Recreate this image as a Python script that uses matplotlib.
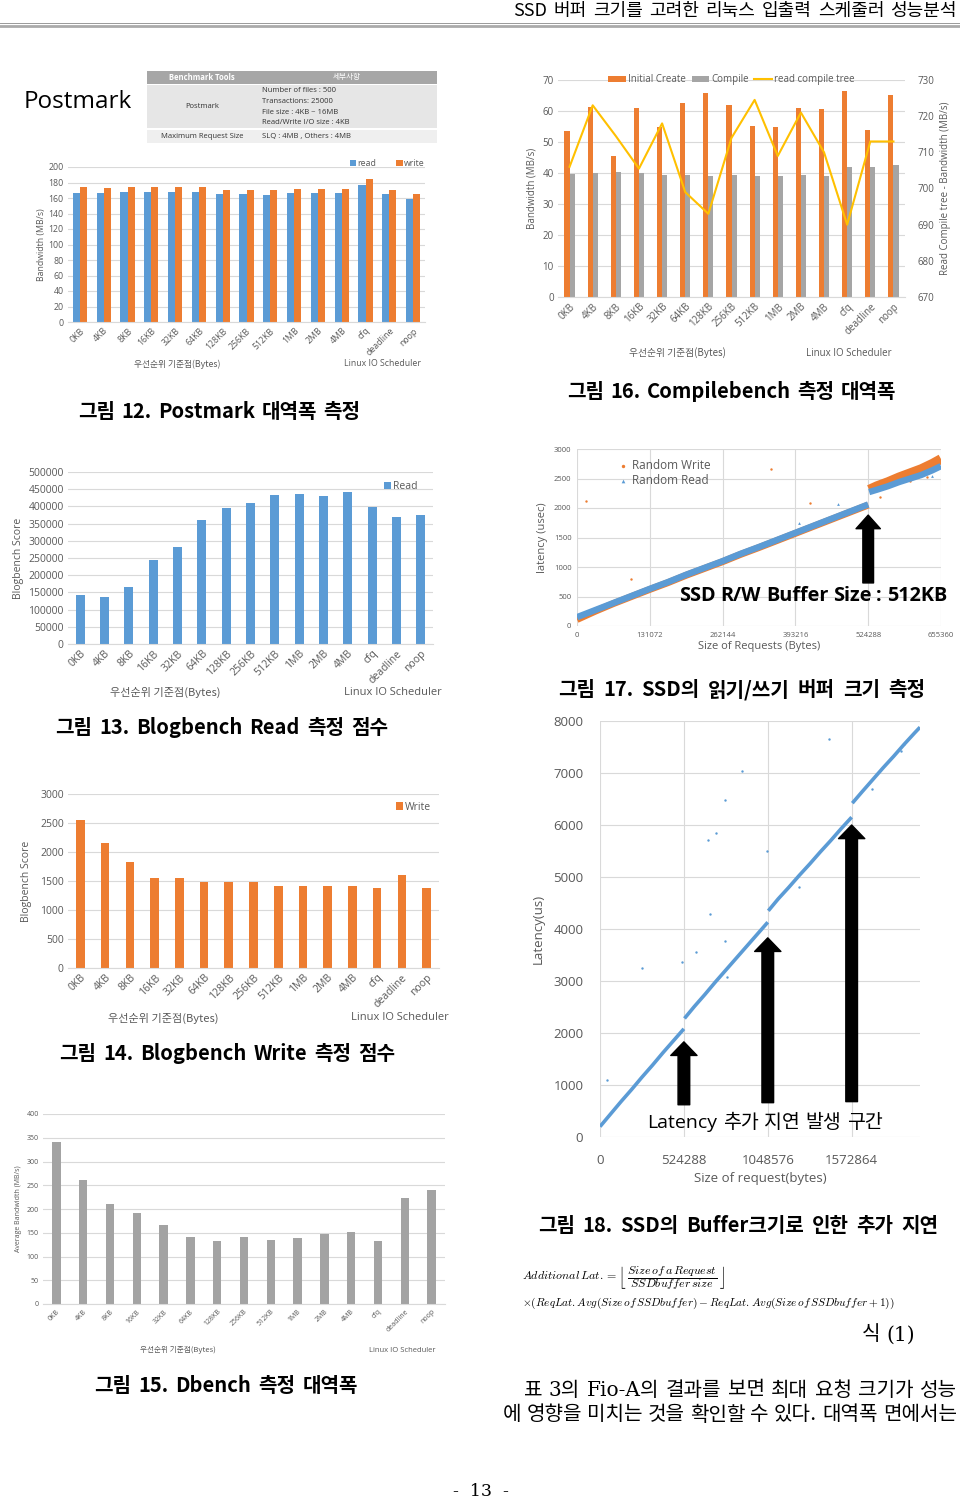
import matplotlib
matplotlib.use('Agg')
import matplotlib.pyplot as plt
from matplotlib.patches import Rectangle
from matplotlib.lines import Line2D
import numpy as np

KR = ['Noto Sans CJK KR', 'DejaVu Sans']
KRSERIF = ['DejaVu Serif', 'Noto Sans CJK KR']
LAT = ['Open Sans', 'Noto Sans CJK KR', 'DejaVu Sans']
plt.rcParams['font.family'] = LAT
plt.rcParams['mathtext.fontset'] = 'cm'

# ---------------- data ----------------
cats = ['0KB', '4KB', '8KB', '16KB', '32KB', '64KB', '128KB', '256KB', '512KB',
        '1MB', '2MB', '4MB', 'cfq', 'deadline', 'noop']

pm_read = [167, 167, 168, 168, 168, 168, 165, 165, 164, 167, 166, 166, 177, 165, 159]
pm_write = [174, 173, 174, 174, 174, 174, 170, 170, 170, 172, 172, 172, 184, 170, 165]

cb_create = [53.7, 61.2, 45.5, 61.0, 54.7, 62.6, 65.7, 61.8, 55.3, 54.9, 60.9, 60.5, 66.5, 53.8, 65.2]
cb_compile = [39.8, 40.0, 40.3, 40.0, 39.3, 39.3, 39.0, 39.3, 39.0, 39.0, 39.2, 39.0, 42.0, 42.0, 42.5]
cb_tree = [706, 723, 714.5, 705.5, 718, 699, 693, 714, 724.5, 709, 721, 710, 690, 713, 713]

bb_read = [141000, 138000, 167000, 243000, 281000, 361000, 396000, 410000, 434000,
           436000, 430000, 443000, 399000, 369000, 376000]
bb_write = [2560, 2150, 1830, 1550, 1560, 1490, 1480, 1490, 1420, 1410, 1420, 1410, 1380, 1610, 1380]

db_bw = [342, 261, 211, 192, 167, 142, 132, 142, 134, 139, 148, 151, 132, 223, 239]

# random read / write latency
rw_x1 = [0, 32768, 65536, 98304, 131072, 163840, 196608, 229376, 262144, 294912,
         327680, 360448, 393216, 425984, 458752, 491520, 524288]
rr_y1 = [150, 270, 390, 510, 630, 745, 870, 985, 1100, 1225, 1340, 1460, 1580, 1700, 1820, 1940, 2060]
rw_y1 = [110, 250, 380, 500, 620, 735, 860, 975, 1090, 1215, 1330, 1450, 1570, 1690, 1810, 1930, 2050]
rw_x2 = [526000, 540000, 560000, 580000, 600000, 620000, 640000, 655360]
rr_y2 = [2270, 2310, 2370, 2440, 2500, 2560, 2640, 2710]
rw_y2 = [2310, 2370, 2440, 2520, 2590, 2660, 2750, 2830]
rw_out_x = [16000, 98000, 350000, 420000, 545000, 600000, 630000]
rw_out_y = [2120, 800, 2660, 2090, 2180, 2450, 2520]
rr_out_x = [400000, 470000, 640000]
rr_out_y = [1740, 2070, 2550]

# latency vs request size
lat_x1 = [0, 65536, 131072, 196608, 262144, 327680, 393216, 458752, 524288]
lat_y1 = [200, 440, 680, 910, 1150, 1380, 1620, 1850, 2080]
lat_x2 = [528000, 589824, 655360, 720896, 786432, 851968, 917504, 983040, 1048576]
lat_y2 = [2280, 2510, 2740, 2980, 3210, 3440, 3670, 3900, 4130]
lat_x3 = [1052000, 1114112, 1179648, 1245184, 1310720, 1376256, 1441792, 1507328, 1572864]
lat_y3 = [4350, 4580, 4800, 5030, 5250, 5480, 5700, 5930, 6150]
lat_x4 = [1577000, 1638400, 1703936, 1769472, 1835008, 1900544, 1966080, 2000000]
lat_y4 = [6420, 6640, 6870, 7100, 7320, 7550, 7770, 7880]
lat_out_x = [43700, 260000, 511800, 599000, 686000, 674000, 724000, 784000, 890000,
             784000, 1042000, 1429000, 792000, 1242000, 1880000, 1900000, 1700000]
lat_out_y = [1096, 3250, 3365, 3558, 4288, 5711, 5846, 6481, 7038,
             3775, 5500, 7654, 3077, 4800, 7420, 7550, 6700]

BLUE = '#5b9bd5'
ORANGE = '#ed7d31'
GRAY = '#a5a5a5'
GOLD = '#ffc000'
GRID = '#d9d9d9'
TXT = '#595959'

W, H = 960, 1501
fig = plt.figure(figsize=(9.6, 15.01), dpi=100)
renderer = fig.canvas.get_renderer()


def box(l, t, r, b):
    return fig.add_axes([l / W, 1 - b / H, (r - l) / W, (b - t) / H])


def ftext(x, y, s, **kw):
    kw.setdefault('va', 'center')
    return fig.text(x / W, 1 - y / H, s, **kw)


def fit_text(x0, x1, y, s, **kw):
    """Place words of s so that the line spans x0..x1 pixels (justified)."""
    words = s.split(' ')
    arts = [ftext(x0, y, w, ha='left', **kw) for w in words]
    widths = [a.get_window_extent(renderer).width for a in arts]
    gap = (x1 - x0 - sum(widths)) / max(len(words) - 1, 1)
    xx = x0
    for a, wdt in zip(arts, widths):
        a.set_x(xx / W)
        xx += wdt + gap


def style_bar(ax, ymax, step, fs, xfs=None):
    ax.set_ylim(0, ymax)
    ticks = list(range(0, ymax + 1, step))
    ax.set_yticks(ticks)
    ax.set_yticklabels([str(t) for t in ticks])
    for s in ['top', 'right', 'left']:
        ax.spines[s].set_visible(False)
    ax.spines['bottom'].set_color(GRID)
    ax.yaxis.grid(True, color=GRID, lw=0.8)
    ax.set_axisbelow(True)
    ax.tick_params(axis='both', length=0, labelsize=fs, colors=TXT, pad=3)
    ax.set_xlim(-0.5, len(cats) - 0.5)
    ax.set_xticks(range(len(cats)))
    ax.set_xticklabels(cats, rotation=45, ha='right', rotation_mode='anchor',
                       fontsize=xfs or fs)


x = np.arange(len(cats))

# ---------------- header / footer ----------------
fit_text(513, 957, 11, 'SSD 버퍼 크기를 고려한 리눅스 입출력 스케줄러 성능분석',
         fontsize=13, family=KR, color='black')
fig.add_artist(Line2D([0, 1], [1 - 22.5 / H, 1 - 22.5 / H], transform=fig.transFigure,
                      color='#999999', lw=0.7))
fig.add_artist(Line2D([0, 1], [1 - 25.5 / H, 1 - 25.5 / H], transform=fig.transFigure,
                      color='#aaaaaa', lw=2.0))
ftext(481, 1492, '-  13  -', ha='center', fontsize=12.5, family=['DejaVu Serif'])

# ---------------- Postmark ----------------
ftext(24, 102, 'Postmark', ha='left', fontsize=17.5, family=['Open Sans'], color='black')


def frect(l, t, r, b, c):
    fig.add_artist(Rectangle((l / W, 1 - b / H), (r - l) / W, (b - t) / H,
                             transform=fig.transFigure, color=c, lw=0))


frect(147, 71, 437, 84, '#a6a6a6')
frect(147, 85, 437, 128, '#e6e6e6')
frect(147, 130, 437, 143, '#efefef')
ftext(202, 77.5, 'Benchmark Tools', ha='center', fontsize=5.5, color='white', weight='bold')
ftext(347, 77.5, '세부사항', ha='center', fontsize=5.5, color='white', family=KR)
ftext(202, 106, 'Postmark', ha='center', fontsize=5.5, color='#333333')
for yy, s in zip([91, 101.5, 112, 122.5],
                 ['Number of files : 500', 'Transactions: 25000',
                  'File size : 4KB ~ 16MB', 'Read/Write I/O size : 4KB']):
    ftext(262, yy, s, ha='left', fontsize=5.5, color='#333333')
ftext(202, 136.5, 'Maximum Request Size', ha='center', fontsize=5.5, color='#333333')
ftext(262, 136.5, 'SLQ : 4MB , Others : 4MB', ha='left', fontsize=5.5, color='#333333')

ax1 = box(68, 167, 425, 322)
ax1.bar(x - 0.15, pm_read, 0.3, color=BLUE, label='read')
ax1.bar(x + 0.15, pm_write, 0.3, color=ORANGE, label='write')
style_bar(ax1, 200, 20, 6.3)
ax1.set_ylabel('Bandwidth (MB/s)', fontsize=6.3, color=TXT, labelpad=2)
ax1.legend(loc='lower right', bbox_to_anchor=(1.01, 0.97), ncol=2, frameon=False,
           fontsize=6.3, handlelength=0.7, handleheight=0.7, columnspacing=2.3,
           handletextpad=0.2, borderaxespad=0, labelcolor=TXT)
ftext(177, 364, '우선순위 기준점(Bytes)', ha='center', fontsize=6.3, family=KR, color=TXT)
ftext(383, 364, 'Linux IO Scheduler', ha='center', fontsize=6.3, color=TXT)

# ---------------- Compilebench ----------------
ax2 = box(558, 80, 905, 297)
ax2.bar(x - 0.11, cb_create, 0.22, color=ORANGE, label='Initial Create')
ax2.bar(x + 0.11, cb_compile, 0.22, color=GRAY, label='Compile')
style_bar(ax2, 70, 10, 7)
ax2.set_ylabel('Bandwidth (MB/s)', fontsize=7, color=TXT, labelpad=4)
ax2b = ax2.twinx()
ln, = ax2b.plot(x, cb_tree, color=GOLD, lw=1.5, label='read compile tree')
ax2b.set_ylim(670, 730)
ax2b.set_yticks(range(670, 731, 10))
for s in ax2b.spines.values():
    s.set_visible(False)
ax2b.tick_params(axis='y', length=0, labelsize=7, colors=TXT, pad=9)
ax2b.set_ylabel('Read Compile tree - Bandwidth (MB/s)', fontsize=7, color=TXT, labelpad=4)
h1, l1 = ax2.get_legend_handles_labels()
ax2.legend(h1 + [ln], l1 + ['read compile tree'], loc='upper center',
           bbox_to_anchor=(0.5, 1.045), ncol=3, frameon=False, fontsize=7,
           handlelength=1.8, handleheight=0.6, columnspacing=0.6, handletextpad=0.2,
           borderaxespad=0, labelcolor=TXT)
ftext(677, 353, '우선순위 기준점(Bytes)', ha='center', fontsize=7, family=KR, color=TXT)
ftext(849, 353, 'Linux IO Scheduler', ha='center', fontsize=7, color=TXT)

# ---------------- Blogbench read ----------------
ax3 = box(68, 472, 433, 644)
ax3.bar(x, bb_read, 0.38, color=BLUE, label='Read')
style_bar(ax3, 500000, 50000, 7.5)
ax3.set_ylabel('Blogbench Score', fontsize=7.5, color=TXT, labelpad=3)
ax3.legend(loc='upper right', bbox_to_anchor=(0.97, 0.97), frameon=False, fontsize=7.5,
           handlelength=0.7, handleheight=0.7, handletextpad=0.2, borderaxespad=0,
           labelcolor=TXT)
ftext(165, 692, '우선순위 기준점(Bytes)', ha='center', fontsize=8, family=KR, color=TXT)
ftext(393, 692, 'Linux IO Scheduler', ha='center', fontsize=8, color=TXT)

# ---------------- SSD R/W buffer scatter ----------------
ax4 = box(577, 449, 941, 626)
ax4.plot(rw_x1, rw_y1, color=ORANGE, lw=5.0, solid_capstyle='butt')
ax4.plot(rw_x2, rw_y2, color=ORANGE, lw=7.0, solid_capstyle='butt')
ax4.plot(rw_x1, rr_y1, color=BLUE, lw=4.6, solid_capstyle='butt')
ax4.plot(rw_x2, rr_y2, color=BLUE, lw=4.6, solid_capstyle='butt')
ax4.scatter(rw_out_x, rw_out_y, s=3, color=ORANGE, marker='o', lw=0)
ax4.scatter(rr_out_x, rr_out_y, s=4, color=BLUE, marker='^', lw=0)
h_w = ax4.scatter([], [], s=6, color=ORANGE, marker='o', lw=0, label='Random Write')
h_r = ax4.scatter([], [], s=7, color=BLUE, marker='^', lw=0, label='Random Read')
ax4.set_xlim(0, 655360)
ax4.set_ylim(0, 3000)
ax4.set_xticks([0, 131072, 262144, 393216, 524288, 655360])
ax4.set_xticklabels(['0', '131072', '262144', '393216', '524288', '655360'])
ax4.set_yticks(range(0, 3001, 500))
ax4.set_yticklabels([str(v) for v in range(0, 3001, 500)])
for s in ax4.spines.values():
    s.set_visible(False)
ax4.grid(True, color=GRID, lw=0.8)
ax4.set_axisbelow(True)
ax4.tick_params(axis='both', length=0, labelsize=5.5, colors=TXT, pad=4)
ax4.set_xlabel('Size of Requests (Bytes)', fontsize=8, color=TXT, labelpad=2)
ax4.set_ylabel('latency (usec)', fontsize=8, color=TXT, labelpad=4)
ax4.legend(handles=[h_w, h_r], loc='upper left', bbox_to_anchor=(0.1, 0.97), frameon=False,
           fontsize=8.5, handlelength=0.8, handletextpad=0.4, borderaxespad=0,
           labelspacing=0.2, labelcolor=TXT)
ax4.annotate('', xy=(524288, 1880), xytext=(524288, 730),
             arrowprops=dict(arrowstyle='simple,head_length=0.7,head_width=1.25,tail_width=0.55',
                             fc='black', ec='black', mutation_scale=14,
                             shrinkA=0, shrinkB=0))
fit_text(679, 947, 596, 'SSD R/W Buffer Size : 512KB', fontsize=14.3, weight='bold',
         color='black')

# ---------------- Blogbench write ----------------
ax5 = box(68, 794, 439, 968)
ax5.bar(x, bb_write, 0.35, color=ORANGE, label='Write')
style_bar(ax5, 3000, 500, 7.5)
ax5.set_ylabel('Blogbench Score', fontsize=7.5, color=TXT, labelpad=6)
ax5.legend(loc='upper right', bbox_to_anchor=(0.99, 0.98), frameon=False, fontsize=7.5,
           handlelength=0.7, handleheight=0.7, handletextpad=0.2, borderaxespad=0,
           labelcolor=TXT)
ftext(163, 1018, '우선순위 기준점(Bytes)', ha='center', fontsize=8, family=KR, color=TXT)
ftext(400, 1018, 'Linux IO Scheduler', ha='center', fontsize=8, color=TXT)

# ---------------- Latency vs request size ----------------
ax6 = box(600, 721, 920, 1137)
for xs, ys in [(lat_x1, lat_y1), (lat_x2, lat_y2), (lat_x3, lat_y3), (lat_x4, lat_y4)]:
    ax6.plot(xs, ys, color=BLUE, lw=2.6, solid_capstyle='butt')
ax6.scatter(lat_out_x, lat_out_y, s=3, color=BLUE, lw=0)
ax6.set_xlim(0, 2000000)
ax6.set_ylim(0, 8000)
ax6.set_xticks([0, 524288, 1048576, 1572864])
ax6.set_xticklabels(['0', '524288', '1048576', '1572864'])
ax6.set_yticks(range(0, 8001, 1000))
ax6.set_yticklabels([str(v) for v in range(0, 8001, 1000)])
for s in ax6.spines.values():
    s.set_visible(False)
ax6.grid(True, color=GRID, lw=0.8)
ax6.set_axisbelow(True)
ax6.tick_params(axis='both', length=0, labelsize=9.5, colors=TXT, pad=12)
ax6.set_xlabel('Size of request(bytes)', fontsize=9.5, color=TXT, labelpad=4)
ax6.set_ylabel('Latency(us)', fontsize=9.5, color=TXT, labelpad=6)
for xa, ylo, yhi in [(524288, 620, 1830), (1048576, 660, 3830), (1572864, 680, 6000)]:
    ax6.annotate('', xy=(xa, yhi), xytext=(xa, ylo),
                 arrowprops=dict(arrowstyle='simple,head_length=0.7,head_width=1.35,tail_width=0.6',
                                 fc='black', ec='black', mutation_scale=14,
                                 shrinkA=0, shrinkB=0))
fit_text(647, 883, 1123, 'Latency 추가 지연 발생 구간', fontsize=14, color='black',
         family=LAT)

# ---------------- Dbench ----------------
ax7 = box(43, 1114, 445, 1304)
ax7.bar(x, db_bw, 0.31, color='#a3a3a3')
style_bar(ax7, 400, 50, 5)
ax7.set_ylabel('Average Bandwidth (MB/s)', fontsize=5, color=TXT, labelpad=3)
ftext(178, 1350, '우선순위 기준점(Bytes)', ha='center', fontsize=5.5, family=KR, color=TXT)
ftext(402, 1350, 'Linux IO Scheduler', ha='center', fontsize=5.5, color=TXT)

# ---------------- captions ----------------
cap = dict(fontsize=14.5, weight='bold', family=KR, color='black')
fit_text(78, 360, 411, '그림 12. Postmark 대역폭 측정', **cap)
fit_text(567, 896, 391, '그림 16. Compilebench 측정 대역폭', **cap)
fit_text(55, 388, 728, '그림 13. Blogbench Read 측정 점수', **cap)
fit_text(558, 925, 690, '그림 17. SSD의 읽기/쓰기 버퍼 크기 측정', **cap)
fit_text(59, 395, 1053, '그림 14. Blogbench Write 측정 점수', **cap)
fit_text(538, 938, 1226, '그림 18. SSD의 Buffer크기로 인한 추가 지연', **cap)
fit_text(94, 358, 1385, '그림 15. Dbench 측정 대역폭', **cap)

# ---------------- equation and body text ----------------
ftext(522, 1278, r'$Additional\,Lat.=\left\lfloor\;\dfrac{Size\,of\,a\,Request}{SSDbuffer\,size}\;\right\rfloor$',
      ha='left', fontsize=8.6)
ftext(522, 1303, r'$\times(ReqLat.Avg(Size\,of\,SSDbuffer)-ReqLat.Avg(Size\,of\,SSDbuffer+1))$',
      ha='left', fontsize=8.15)
fit_text(862, 915, 1335, '식 (1)', fontsize=14.5, family=KRSERIF)
fit_text(524, 957, 1390, '표 3의 Fio-A의 결과를 보면 최대 요청 크기가 성능', fontsize=14.5,
         family=KRSERIF)
fit_text(503, 957, 1415, '에 영향을 미치는 것을 확인할 수 있다. 대역폭 면에서는', fontsize=14.5,
         family=KRSERIF)

fig.savefig('out.png', dpi=100)
